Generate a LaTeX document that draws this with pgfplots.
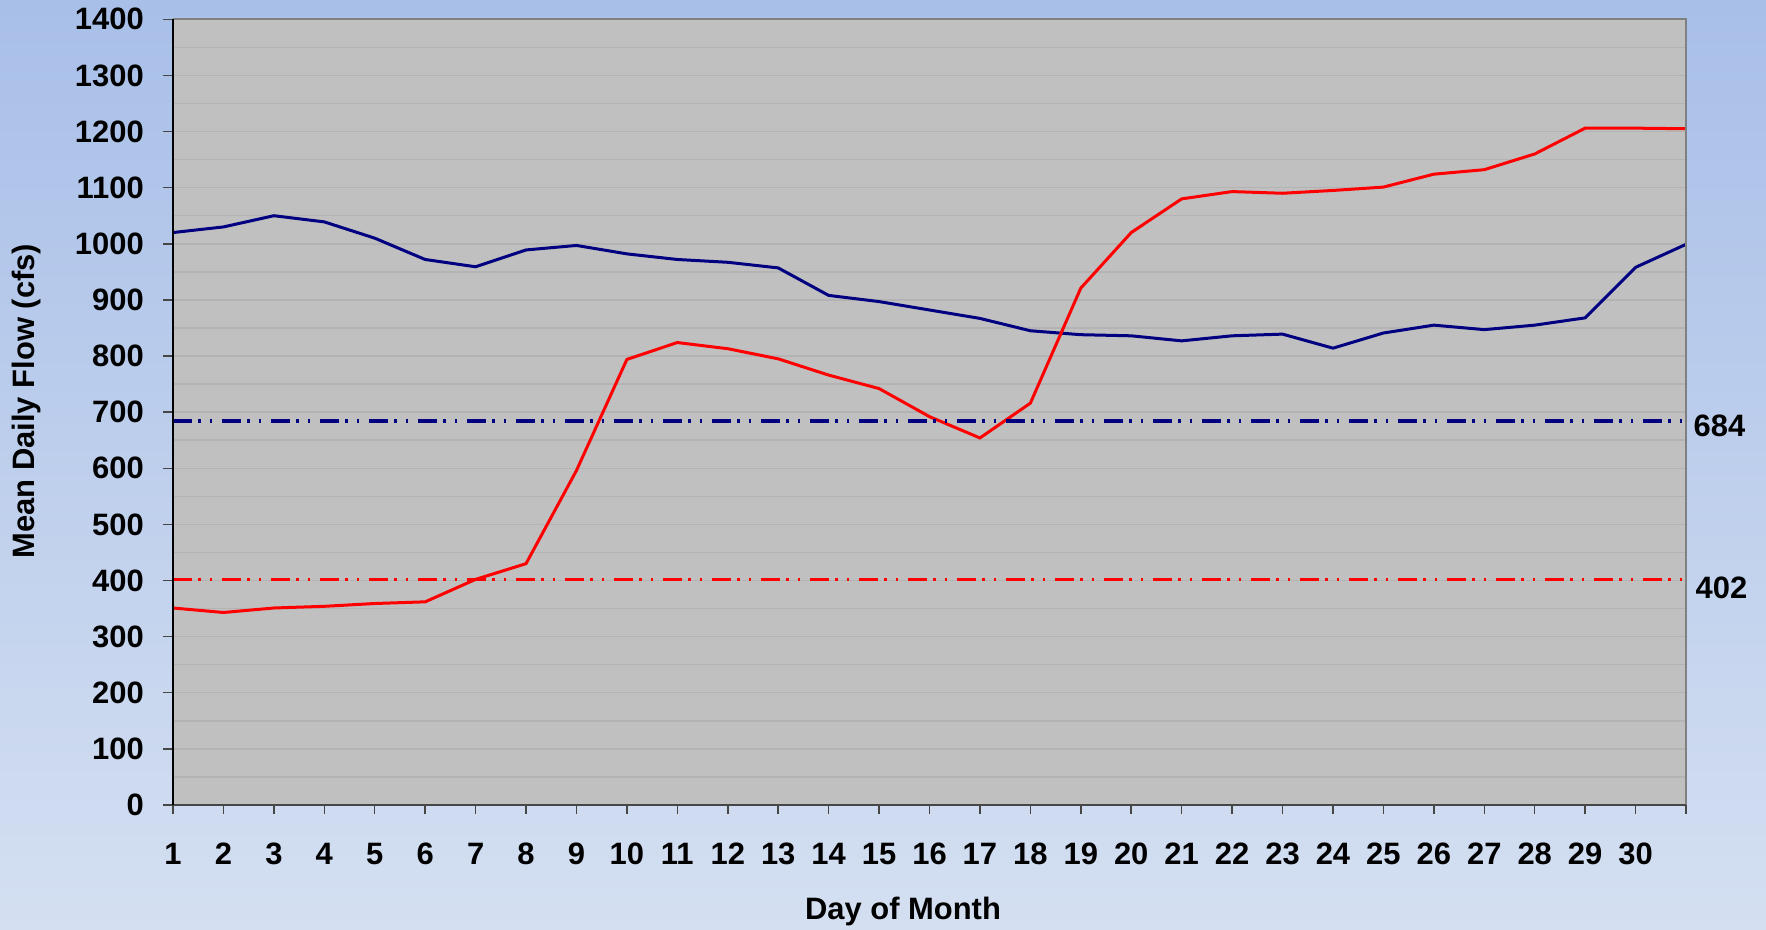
\documentclass[border=0pt]{standalone}
\usepackage{pgfplots}
\pgfplotsset{compat=1.18}
\usepackage{fontspec}
\setmainfont{Liberation Sans}
\definecolor{bgtop}{RGB}{168,191,232}
\definecolor{bgbot}{RGB}{212,223,241}
\definecolor{plotbg}{RGB}{192,192,192}
\definecolor{gridc}{RGB}{179,179,179}
\definecolor{navyc}{RGB}{0,0,128}
\definecolor{frameg}{RGB}{128,128,128}
\definecolor{botax}{RGB}{70,70,70}
\tikzset{refdash/.style={dash pattern=on 1.9mm off 0.65mm on 0.25mm off 0.9mm on 0.25mm off 0.95mm}}
\begin{document}
\begin{tikzpicture}
\useasboundingbox (0,0) rectangle (176.6mm,93mm);
\shade[top color=bgtop, bottom color=bgbot] (0,0) rectangle (176.6mm,93mm);
\begin{axis}[
  at={(17.3mm,12.5mm)}, anchor=south west,
  scale only axis, width=151.3mm, height=78.57mm,
  xmin=1, xmax=31, ymin=0, ymax=1400,
  clip=false,
  axis background/.style={fill=plotbg},
  axis line style={draw=none},
  xtick={1,...,31},
  xticklabels={1,2,3,4,5,6,7,8,9,10,11,12,13,14,15,16,17,18,19,20,21,22,23,24,25,26,27,28,29,30,{}},
  ytick={0,100,...,1400},
  minor y tick num=1,
  ymajorgrids, yminorgrids,
  major grid style={gridc, line width=0.15mm},
  minor grid style={gridc, line width=0.15mm},
  tick align=outside, tick pos=left,
  major tick length=0.95mm, minor tick length=0pt,
  major tick style={botax, line width=0.15mm},
  /pgf/number format/assume math mode=true,
  /pgf/number format/1000 sep={},
  tick label style={font=\fontsize{8.8}{10}\selectfont\bfseries, inner sep=0pt},
  yticklabel style={xshift=-1.9mm},
  xticklabel style={yshift=-2.8mm},
  xlabel={Day of Month},
  ylabel={Mean Daily Flow (cfs)},
  label style={font=\fontsize{8.8}{10}\selectfont\bfseries},
  xlabel style={at={(rel axis cs:0.4825,-0.1355)}, anchor=center},
  ylabel style={at={(rel axis cs:-0.0965,0.514)}, anchor=center, rotate=0},
]
\addplot[navyc, line width=0.3mm, no markers] coordinates {
(1,1020) (2,1030) (3,1050) (4,1039) (5,1010) (6,972) (7,959) (8,989) (9,997) (10,982)
(11,972) (12,967) (13,957) (14,908) (15,897) (16,882) (17,867) (18,845) (19,838) (20,836)
(21,827) (22,836) (23,839) (24,814) (25,841) (26,855) (27,847) (28,855) (29,868) (30,958) (31,999)
};
\addplot[red, line width=0.3mm, no markers] coordinates {
(1,351) (2,343) (3,351) (4,354) (5,359) (6,362) (7,402) (8,430) (9,596) (10,794)
(11,824) (12,813) (13,795) (14,766) (15,742) (16,692) (17,654) (18,716) (19,921) (20,1020)
(21,1080) (22,1093) (23,1090) (24,1095) (25,1101) (26,1124) (27,1132) (28,1160) (29,1206) (30,1206) (31,1205)
};
\addplot[navyc, line width=0.33mm, refdash, no markers] coordinates {(1,684) (31,684)};
\addplot[red, line width=0.33mm, refdash, no markers] coordinates {(1,402) (31,402)};
\draw[frameg, line width=0.22mm] (rel axis cs:0,1) -- (rel axis cs:1,1) -- (rel axis cs:1,0);
\draw[botax, line width=0.2mm] (rel axis cs:0,0) -- (rel axis cs:1,0);
\draw[black, line width=0.15mm] (rel axis cs:0,0) -- (rel axis cs:0,1);
\node[anchor=west, inner sep=0pt, xshift=0.7mm, yshift=-0.5mm, font=\fontsize{8.8}{10}\selectfont\bfseries] at (axis cs:31,684) {684};
\node[anchor=west, inner sep=0pt, xshift=0.9mm, yshift=-0.85mm, font=\fontsize{8.8}{10}\selectfont\bfseries] at (axis cs:31,402) {402};
\end{axis}
\end{tikzpicture}
\end{document}
